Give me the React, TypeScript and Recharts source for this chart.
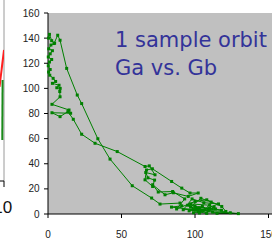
import React from "react";
import { LineChart, Line, XAxis, YAxis, CartesianGrid, ReferenceLine } from "recharts";

// Main chart: one sample orbit, Ga (x) vs Gb (y)
const gaValues = [
  0.4, 1.0, 2.5, 4.5, 2.0, 0.5, 3.0, 1.5, 0.2, 2.5, 1.0, 0.2, 1.5, 0.4, 1.2, 3.5, 5.2, 3.0, 7.5, 6.0,
  8.3, 8.0, 8.2, 2.7, 14.3, 15.4, 2.7, 8.2, 13.5, 17.2, 22.9, 32.0, 47.1, 66.0, 68.9, 72.8, 66.5, 68.0,
  72.5, 71.2, 66.0, 67.0, 71.0, 84.1, 91.0, 96.6, 102.2, 95.4, 85.3, 79.6, 71.2, 75.0, 84.8, 93.0, 87.5,
  100.0, 108.0, 118.2, 121.0, 104.0, 97.0, 110.0, 114.0, 99.0, 105.0, 112.0, 124.0, 129.5, 115.0, 101.0,
  92.0, 98.0, 106.0, 116.0, 102.0, 108.0, 100.0, 103.0, 96.0, 107.0, 111.0, 104.0, 97.0, 109.0, 113.0,
  103.0, 95.0, 118.0, 110.0, 99.0, 84.0, 91.0, 89.8, 76.2, 70.5, 57.3, 42.2, 33.9, 22.9, 19.9, 12.7,
  8.2, 6.6, 4.1,
];
const gbValues = [
  140, 143, 138, 136, 134.5, 131.5, 130, 127.5, 125, 123, 121, 118, 115, 113, 110.5, 108, 105.5, 104, 102.5,
  100.5, 100, 97.5, 93.3, 87.3, 82.8, 80.2, 80.6, 77.5, 81.5, 75.4, 63.5, 56.3, 49.7, 37.8, 38.3, 31.2, 33.0,
  28.8, 27.0, 21.9, 27.2, 35.0, 36.0, 25.9, 20.6, 16.7, 16.7, 14.0, 16.9, 15.3, 23.3, 17.5, 17.9, 12.0, 4.0,
  10.0, 11.3, 6.0, 2.0, 3.0, 8.0, 7.0, 4.0, 1.0, 6.0, 1.5, 1.0, 0.3, 0.5, 4.0, 3.4, 12.0, 9.0, 8.0, 2.0,
  0.5, 6.0, 5.0, 2.5, 3.5, 9.5, 12.5, 5.5, 2.5, 5.5, 0.8, 7.0, 3.0, 4.5, 3.5, 5.5, 6.5, 8.7, 7.9, 12.7,
  22.5, 43.7, 59.9, 87.9, 94.7, 115.9, 138.3, 142.3, 135.7,
];
const xTicks = [0, 50, 100, 150, 200];
const yTicks = [0, 20, 40, 60, 80, 100, 120, 140, 160];
const titleLines = ["1 sample orbit", "Ga vs. Gb"];

// Left neighbouring chart (only its right edge is visible)
const leftRedX = [9.55, 10];
const leftRedY = [52, 72.4];
const leftGreenX = [9.83, 9.86];
const leftGreenY = [22.7, 55.8];
const leftLastCategory = 10;

const orbit = gaValues.map((ga, i) => ({ ga, gb: gbValues[i] }));
const leftRed = leftRedX.map((x, i) => ({ x, red: leftRedY[i] }));
const leftGreen = leftGreenX.map((x, i) => ({ x, green: leftGreenY[i] }));

const SquareDot = (props: any) => {
  const { cx, cy, index } = props;
  if (cx == null || cy == null) return <g key={`d${index}`} />;
  return <rect key={`d${index}`} x={cx - 1.5} y={cy - 1.5} width={3} height={3} fill="#008000" />;
};

const LeftTick = (props: any) => {
  const { x, y, payload } = props;
  return (
    <text x={x - 1.2} y={y + 24} textAnchor="middle" fontSize={17} fill="#111" fontFamily="'Liberation Sans', Arial, sans-serif">
      {payload.value}
    </text>
  );
};

export default function App() {
  return (
    <div style={{ position: "absolute", left: 0, top: 0, width: 272, height: 241, overflow: "hidden", background: "#fff" }}>
      <div style={{ position: "absolute", left: -96, top: 0 }}>
        <LineChart width={120} height={241} margin={{ top: 0, right: 20, left: 0, bottom: 0 }}>
          <XAxis
            type="number"
            dataKey="x"
            domain={[0, 10]}
            ticks={[leftLastCategory]}
            height={60}
            tickSize={6}
            tickMargin={2}
            axisLine={{ stroke: "#000" }}
            tickLine={{ stroke: "#000" }}
            tick={<LeftTick />}
            allowDataOverflow
          />
          <YAxis type="number" domain={[0, 100]} hide />
          <ReferenceLine x={10} stroke="#9a9a9a" strokeWidth={1} />
          <Line data={leftRed} dataKey="red" stroke="#ff2020" strokeWidth={2} dot={false} isAnimationActive={false} />
          <Line data={leftGreen} dataKey="green" stroke="#1a8a1a" strokeWidth={2} dot={false} isAnimationActive={false} />
        </LineChart>
      </div>
      <div style={{ position: "absolute", left: 0, top: 0 }}>
        <LineChart width={350} height={241} data={orbit} margin={{ top: 13, right: 8, left: 0, bottom: 0 }}>
          <CartesianGrid fill="#C0C0C0" stroke="#C0C0C0" horizontal={false} vertical={false} />
          <XAxis
            type="number"
            dataKey="ga"
            domain={[0, 200]}
            ticks={xTicks}
            height={27}
            tickSize={4}
            tickMargin={13}
            axisLine={{ stroke: "#000" }}
            tickLine={{ stroke: "#000" }}
            tick={{ fontSize: 10, fill: "#222", fontFamily: "'Liberation Sans', Arial, sans-serif" }}
          />
          <YAxis
            type="number"
            dataKey="gb"
            domain={[0, 160]}
            ticks={yTicks}
            width={48}
            tickSize={4}
            tickMargin={4.5}
            axisLine={{ stroke: "#000" }}
            tickLine={{ stroke: "#000" }}
            tick={{ fontSize: 10, fill: "#222", fontFamily: "'Liberation Sans', Arial, sans-serif" }}
          />
          <Line
            dataKey="gb"
            stroke="#008000"
            strokeWidth={1}
            dot={SquareDot}
            activeDot={false}
            isAnimationActive={false}
          />
        </LineChart>
      </div>
      <div
        style={{
          position: "absolute",
          left: 115,
          top: 26,
          fontFamily: "'DejaVu Sans', sans-serif",
          fontSize: 21,
          lineHeight: "28px",
          color: "#333399",
          whiteSpace: "nowrap",
        }}
      >
        {titleLines.map((t) => (
          <div key={t}>{t}</div>
        ))}
      </div>
    </div>
  );
}
